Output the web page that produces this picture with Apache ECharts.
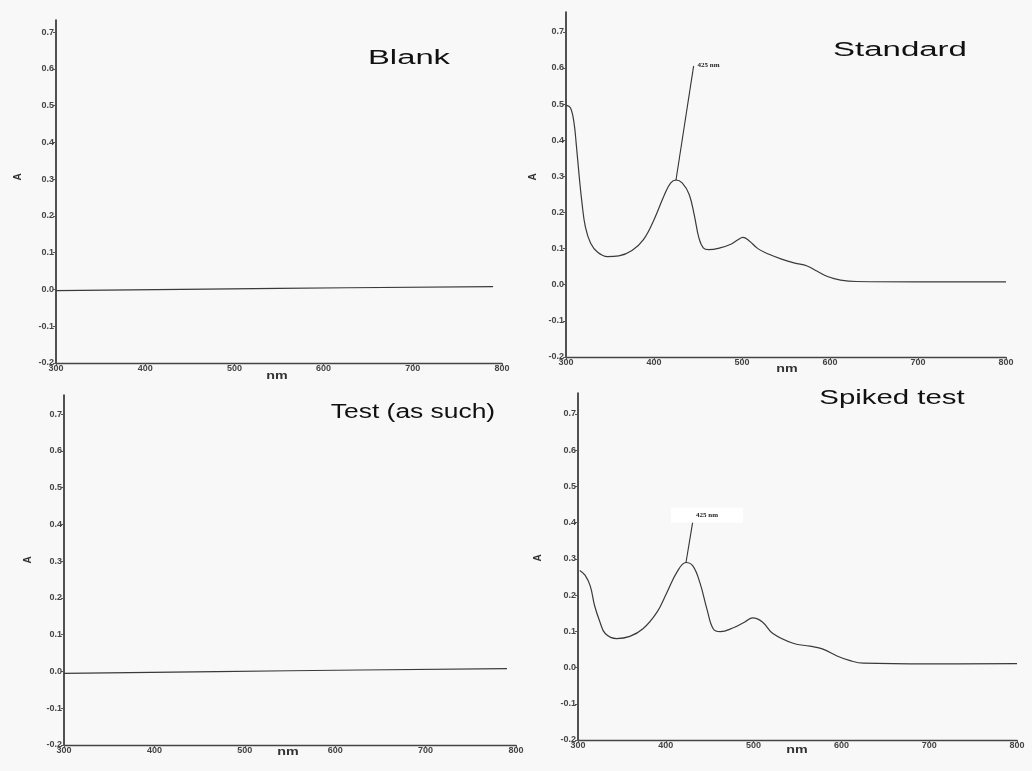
<!DOCTYPE html>
<html><head><meta charset="utf-8">
<script src="https://cdn.jsdelivr.net/npm/echarts@6/dist/echarts.min.js"></script>
<style>html,body{margin:0;padding:0;background:#f8f8f8}#c{width:1032px;height:771px}</style>
</head><body><div id="c"></div>
<script>
// ---- data ----
const xTicks = [300, 400, 500, 600, 700, 800];
const yTicks = [-0.2, -0.1, 0, 0.1, 0.2, 0.3, 0.4, 0.5, 0.6, 0.7];
const panelTitles = ['Blank', 'Standard', 'Test (as such)', 'Spiked test'];
const yName = 'A';
const xName = 'nm';
const peakLabel = '425 nm';

const blank = [[300, -0.003], [550, 0.003], [790, 0.008]];
const standard = [
  [300, 0.497], [305, 0.49], [309, 0.45], [312, 0.38], [315, 0.30], [318, 0.23],
  [322, 0.16], [328, 0.115], [336, 0.09], [347, 0.078], [360, 0.08], [375, 0.095],
  [388, 0.125], [400, 0.18], [412, 0.25], [419, 0.282], [425, 0.29], [432, 0.282],
  [440, 0.25], [446, 0.19], [451, 0.13], [456, 0.102], [462, 0.097], [475, 0.102],
  [488, 0.113], [495, 0.124], [501, 0.131], [508, 0.122], [518, 0.1], [530, 0.085],
  [545, 0.071], [560, 0.06], [574, 0.052], [585, 0.038], [598, 0.022], [612, 0.013],
  [630, 0.009], [700, 0.008], [800, 0.008]
];
const test = [[300, -0.005], [550, 0.002], [790, 0.008]];
const spiked = [
  [302, 0.268], [308, 0.255], [314, 0.225], [319, 0.17], [325, 0.126], [331, 0.094],
  [344, 0.08], [359, 0.086], [374, 0.107], [390, 0.153], [401, 0.206], [413, 0.265],
  [423, 0.29], [431, 0.28], [439, 0.233], [447, 0.16], [454, 0.107], [462, 0.099],
  [477, 0.11], [490, 0.126], [499, 0.137], [510, 0.126], [522, 0.094], [545, 0.067],
  [564, 0.059], [579, 0.051], [595, 0.032], [610, 0.019], [625, 0.012], [700, 0.01],
  [800, 0.011]
];
const standardLeader = [[425, 0.29], [445, 0.605]];
const spikedLeader = [[423, 0.29], [431, 0.407]];

// ---- layout ----
const panels = [
  {grid: {left: 56, top: 20, width: 446, height: 343}, ymax: 0.733, data: blank,
   title: [409, 58, 1.64], yn: [18, 177], xn: [277, 376]},
  {grid: {left: 566, top: 12, width: 440, height: 345}, ymax: 0.755, data: standard,
   title: [900, 50, 1.65], yn: [533, 177], xn: [787, 369],
   leader: standardLeader, lbl: {offset: [15, 3], bg: null}},
  {grid: {left: 64, top: 395, width: 452, height: 350}, ymax: 0.752, data: test,
   title: [413, 412, 1.32], yn: [28, 560], xn: [288, 752]},
  {grid: {left: 578, top: 393, width: 439, height: 347}, ymax: 0.758, data: spiked,
   title: [892, 398, 1.47], yn: [538, 558], xn: [797, 750],
   leader: spikedLeader, lbl: {offset: [14, 3], bg: '#ffffff'}}
];

const axisColor = '#1a1a1a';
const grids = [], xAxes = [], yAxes = [], series = [], graphics = [];
panels.forEach((p, i) => {
  grids.push(p.grid);
  xAxes.push({
    type: 'value', gridIndex: i, min: 300, max: 800, interval: 100,
    axisLine: {show: true, onZero: false, lineStyle: {color: '#444', width: 1.3}},
    axisTick: {show: true, length: 3, lineStyle: {color: '#555'}},
    axisLabel: {margin: 1, fontSize: 9, fontWeight: 'bold', color: '#444',
      fontFamily: 'Liberation Sans, Arial, sans-serif'},
    splitLine: {show: false}
  });
  yAxes.push({
    type: 'value', gridIndex: i, min: -0.2, max: p.ymax,
    axisLine: {show: true, onZero: false, lineStyle: {color: axisColor, width: 1.5}},
    axisTick: {show: true, length: 3, customValues: yTicks, lineStyle: {color: '#555'}},
    axisLabel: {customValues: yTicks, margin: 2, fontSize: 9, fontWeight: 'bold', color: '#444',
      fontFamily: 'Liberation Sans, Arial, sans-serif',
      formatter: v => (Math.abs(v) < 1e-9 ? 0 : v).toFixed(1)},
    splitLine: {show: false}
  });
  series.push({
    type: 'line', name: panelTitles[i], xAxisIndex: i, yAxisIndex: i, data: p.data,
    smooth: 0.4, symbol: 'none', lineStyle: {color: '#3a3a3a', width: 1.2}, silent: true
  });
  if (p.leader) {
    series.push({
      type: 'line', name: panelTitles[i] + ' peak', xAxisIndex: i, yAxisIndex: i,
      symbol: 'circle', symbolSize: 1, showSymbol: true,
      itemStyle: {color: '#333'},
      lineStyle: {color: '#333', width: 1.1},
      data: [p.leader[0], {value: p.leader[1], label: {
        show: true, formatter: peakLabel, position: 'top', distance: 0,
        offset: p.lbl.offset, fontSize: 7, fontWeight: 'bold', color: '#222',
        fontFamily: 'Liberation Serif, DejaVu Serif, serif',
        backgroundColor: p.lbl.bg || 'transparent', padding: p.lbl.bg ? [4, 25] : 0
      }}],
      silent: true, z: 3
    });
  }
  graphics.push({
    type: 'text', x: p.title[0], y: p.title[1], scaleX: p.title[2],
    style: {text: panelTitles[i], font: '20px "Liberation Sans", Arial, sans-serif',
      fill: '#111', align: 'center', verticalAlign: 'middle'}
  });
  graphics.push({
    type: 'text', x: p.yn[0], y: p.yn[1], rotation: Math.PI / 2,
    style: {text: yName, font: 'bold 10px "Liberation Sans", Arial, sans-serif',
      fill: '#333', align: 'center', verticalAlign: 'middle'}
  });
  graphics.push({
    type: 'text', x: p.xn[0], y: p.xn[1], scaleX: 1.3,
    style: {text: xName, font: 'bold 11px "Liberation Sans", Arial, sans-serif',
      fill: '#333', align: 'center', verticalAlign: 'middle'}
  });
});

const chart = echarts.init(document.getElementById('c'), null, {renderer: 'canvas'});
chart.setOption({
  backgroundColor: '#f8f8f8',
  animation: false,
  grid: grids, xAxis: xAxes, yAxis: yAxes, series: series, graphic: graphics
});
</script>
</body></html>
